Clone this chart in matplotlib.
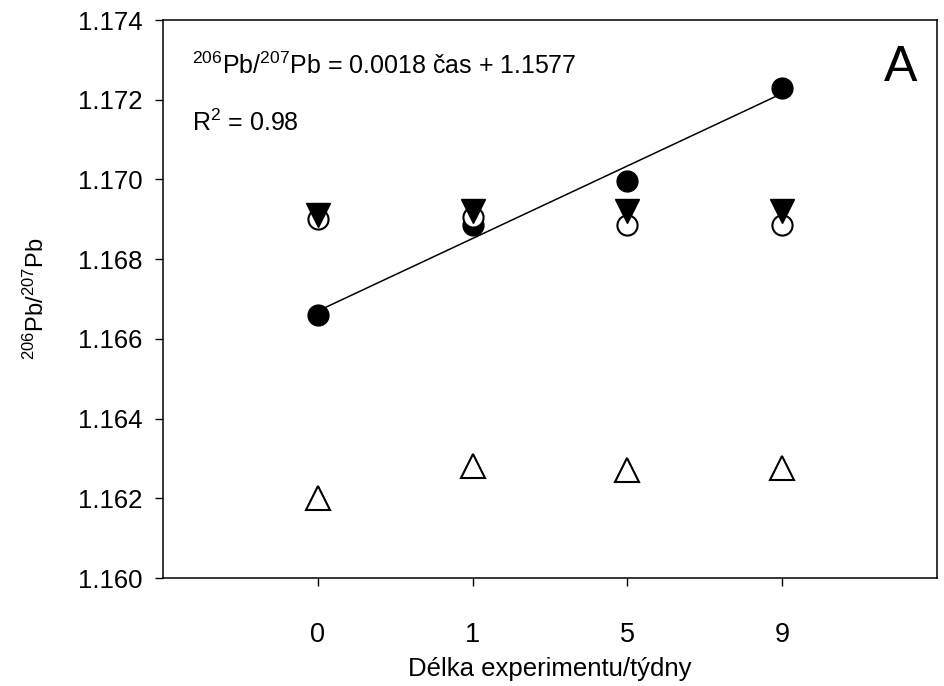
import numpy as np
import matplotlib
matplotlib.use("Agg")
import matplotlib.pyplot as plt

plt.rcParams['font.family'] = ['Liberation Sans', 'DejaVu Sans']
plt.rcParams['mathtext.fontset'] = 'custom'
plt.rcParams['mathtext.rm'] = 'Liberation Sans'

weeks = ['0', '1', '5', '9']
filled_circle = [1.16660, 1.16886, 1.16996, 1.17230]
open_circle = [1.16900, 1.16906, 1.16886, 1.16886]
filled_tri_down = [1.16912, 1.16920, 1.16920, 1.16920]
open_tri_up = [1.16200, 1.16282, 1.16272, 1.16276]

pos = np.arange(len(weeks))

fig = plt.figure(figsize=(9.44, 6.86), dpi=100)
ax = fig.add_axes([0.1727, 0.1574, 0.820, 0.8134])

# linear fit through the filled circles
k, q = np.polyfit(pos, filled_circle, 1)
ax.plot(pos, k * pos + q, color='black', lw=1.1, zorder=1)

ax.plot(pos, filled_circle, 'o', ms=15, color='black', zorder=2)
ax.plot(pos, open_circle, 'o', ms=14.5, mfc='white', mec='black', mew=1.5, zorder=3)
ax.plot(pos, filled_tri_down, 'v', ms=17, color='black', zorder=4)
ax.plot(pos, open_tri_up, '^', ms=17, mfc='white', mec='black', mew=1.5, zorder=4)

ax.set_xlim(-1, 4)
ax.set_ylim(1.160, 1.174)
yt = np.arange(1.160, 1.1741, 0.002)
ax.set_yticks(yt)
ax.set_yticklabels(['%.3f' % v for v in yt])
ax.set_xticks(pos)
ax.set_xticklabels(weeks, fontsize=19.5)

ax.tick_params(axis='y', direction='out', length=6, width=1, labelsize=18.5, pad=9)
ax.tick_params(axis='x', direction='out', length=6, width=1, pad=26)
for s in ax.spines.values():
    s.set_linewidth(1.1)

ax.set_xlabel('Délka experimentu/týdny', fontsize=18.5, labelpad=6)
ax.set_ylabel(r'$\mathregular{^{206}}$Pb/$\mathregular{^{207}}$Pb', fontsize=17, labelpad=21)

ax.text(0.038, 0.918, r'$\mathregular{^{206}}$Pb/$\mathregular{^{207}}$Pb = 0.0018 čas + 1.1577',
        transform=ax.transAxes, fontsize=18, va='center', ha='left')
ax.text(0.038, 0.815, r'R$\mathregular{^{2}}$ = 0.98', transform=ax.transAxes,
        fontsize=18, va='center', ha='left')
ax.text(0.975, 0.914, 'A', transform=ax.transAxes, fontsize=36, va='center', ha='right')

fig.savefig('out.png', dpi=100)
